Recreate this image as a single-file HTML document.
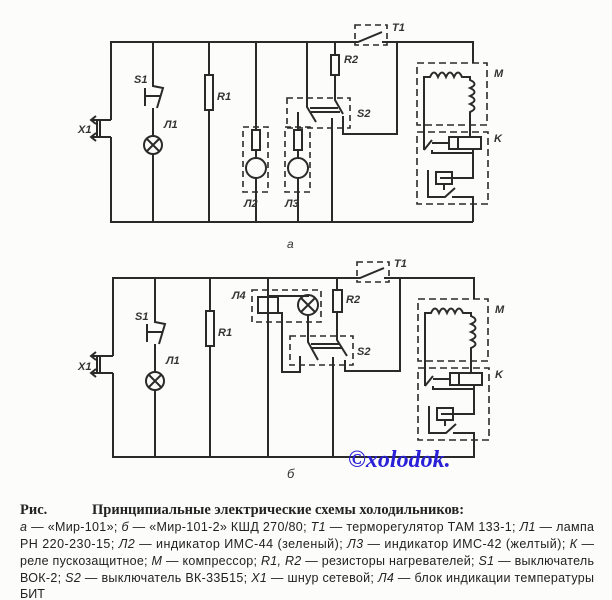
<!DOCTYPE html>
<html><head><meta charset="utf-8"><style>
html,body{margin:0;padding:0;background:#fcfcfa;}
svg{display:block}
.t{font-family:"Liberation Sans",sans-serif;font-style:italic;font-weight:bold;font-size:11px;fill:#333}
.c{font-family:"Liberation Sans","Noto Sans CJK SC",sans-serif;font-size:12.5px;fill:#222}
</style></head><body>
<svg width="612" height="600" viewBox="0 0 612 600" xmlns="http://www.w3.org/2000/svg">
<defs>
<g id="rightpart" fill="none" stroke="#2a2a2a" stroke-width="2">
 <rect x="417" y="63" width="70" height="62" stroke-dasharray="7,4" stroke-width="1.6"/>
 <path d="M424,150 V77 H430 q4,-9 8,0 q4,-9 8,0 q4,-9 8,0 q4,-9 8,0 H470 V80 q9,4 0,8 q9,4 0,8 q9,4 0,8 q9,4 0,8 V137"/>
 <rect x="417" y="132" width="71" height="72" stroke-dasharray="7,4" stroke-width="1.6"/>
 <rect x="449" y="137" width="32" height="12"/>
 <rect x="449" y="137" width="9" height="12"/>
 <path d="M424,150 L432,140 M432,143 H449" />
 <path d="M432,150 V153 H473 V178 H445 M473,149 V153"/>
 <rect x="436" y="172" width="16" height="12"/>
 <path d="M440,178 H448 M444,184 V190"/>
 <path d="M428,170 V197 H445 L455,188 M452,197 H473 V222"/>
</g>
</defs>

<g fill="none" stroke="#2a2a2a" stroke-width="2">
<path d="M111,120 V42 H358 L382,32 M382,42 H473 V63"/>
<path d="M111,137 V222 H473"/>
<path d="M111,120 H92 M111,137 H92 M97,120 V137 M100,120 V137" />
<path d="M96,116 L91,120 L96,124 M96,133 L91,137 L96,141"/>
<rect x="355" y="25" width="32" height="20" stroke-dasharray="6,4" stroke-width="1.6"/>
<path d="M153,42 V86 L163,88 L157,108 M145,88 V106 M145,96 H160 M153,108 V136 M153,154 V222"/>
<circle cx="153" cy="145" r="9"/>
<path d="M147,139 L159,151 M159,139 L147,151"/>
<path d="M209,42 V75 M209,110 V222"/><rect x="205" y="75" width="8" height="35"/>
<path d="M256,42 V130 M256,150 V158 M256,178 V222"/><rect x="252" y="130" width="8" height="20"/>
<circle cx="256" cy="168" r="10"/><rect x="243" y="127" width="25" height="65" stroke-dasharray="6,4" stroke-width="1.6"/>
<path d="M298,112 V130 M298,150 V158 M298,178 V222"/><rect x="294" y="130" width="8" height="20"/>
<circle cx="298" cy="168" r="10"/><rect x="285" y="127" width="25" height="65" stroke-dasharray="6,4" stroke-width="1.6"/>
<path d="M307,42 V107 L316,122 M310,108 H338 M311,112 H340 M332,118 V222"/>
<path d="M335,42 V55 M335,75 V100 L343,114 M343,116 V134 H397 V42"/>
<rect x="331" y="55" width="8" height="20"/>
<rect x="287" y="98" width="63" height="30" stroke-dasharray="6,4" stroke-width="1.6"/>
<use href="#rightpart"/>

<path d="M113,356 V278 H360 L384,268 M384,278 H474 V299"/>
<path d="M113,373 V457 H474"/>
<path d="M113,356 H92 M113,373 H92 M97,356 V373 M100,356 V373"/>
<path d="M96,352 L91,356 L96,360 M96,369 L91,373 L96,377"/>
<rect x="357" y="262" width="32" height="20" stroke-dasharray="6,4" stroke-width="1.6"/>
<path d="M155,278 V322 L165,324 L159,344 M147,324 V342 M147,332 H162 M155,344 V372 M155,390 V457"/>
<circle cx="155" cy="381" r="9"/>
<path d="M149,375 L161,387 M161,375 L149,387"/>
<path d="M210,278 V311 M210,346 V457"/><rect x="206" y="311" width="8" height="35"/>
<path d="M268,278 V457"/>
<rect x="258" y="297" width="20" height="16"/>
<path d="M268,296 H308 V295 M308,315 V342 L318,360 M278,313 H282 V372 H300 V356 M311,344 H340 M312,348 H342"/>
<circle cx="308" cy="305" r="10"/><path d="M301,298 L315,312 M315,298 L301,312"/>
<rect x="252" y="290" width="69" height="32" stroke-dasharray="6,4" stroke-width="1.6"/>
<path d="M337,278 V290 M337,312 V340 L347,356 M333,357 V457 M345,360 V371 H400 V278"/>
<rect x="333" y="290" width="9" height="22"/>
<rect x="290" y="336" width="63" height="29" stroke-dasharray="6,4" stroke-width="1.6"/>
<use href="#rightpart" transform="translate(1,236)"/>
</g>

<text class="t" x="392" y="31">T1</text>
<text class="t" x="134" y="83">S1</text>
<text class="t" x="164" y="128">Л1</text>
<text class="t" x="217" y="100">R1</text>
<text class="t" x="344" y="63">R2</text>
<text class="t" x="357" y="117">S2</text>
<text class="t" x="244" y="207">Л2</text>
<text class="t" x="285" y="207">Л3</text>
<text class="t" x="494" y="77">M</text>
<text class="t" x="494" y="142">K</text>
<text class="t" x="78" y="133">X1</text>
<text class="t" x="287" y="248" style="font-weight:normal;font-size:12px">a</text>
<text class="t" x="394" y="267">T1</text>
<text class="t" x="135" y="320">S1</text>
<text class="t" x="166" y="364">Л1</text>
<text class="t" x="218" y="336">R1</text>
<text class="t" x="232" y="299">Л4</text>
<text class="t" x="346" y="303">R2</text>
<text class="t" x="357" y="355">S2</text>
<text class="t" x="495" y="313">M</text>
<text class="t" x="495" y="378">K</text>
<text class="t" x="78" y="370">X1</text>
<text class="t" x="287" y="478" style="font-weight:normal;font-size:13px">б</text>
<text x="348" y="467" style="font-family:'Liberation Serif',serif;font-style:italic;font-weight:bold;font-size:24px;fill:#2a20d8">©xolodok.</text>

<text x="20" y="514" style="font-family:'Liberation Serif',serif;font-weight:bold;font-size:14.5px;fill:#222">Рис.</text>
<text x="92" y="514" style="font-family:'Liberation Serif',serif;font-weight:bold;font-size:14.5px;fill:#222">Принципиальные электрические схемы холодильников:</text>
<text class="c" x="20" y="531" textLength="574"><tspan font-style="italic">а</tspan> — «Мир-101»; <tspan font-style="italic">б</tspan> — «Мир-101-2» КШД 270/80; <tspan font-style="italic">Т1</tspan> — терморегулятор ТАМ 133-1; <tspan font-style="italic">Л1</tspan> — лампа</text>
<text class="c" x="20" y="548" textLength="574">РН 220-230-15; <tspan font-style="italic">Л2</tspan> — индикатор ИМС-44 (зеленый); <tspan font-style="italic">Л3</tspan> — индикатор ИМС-42 (желтый); <tspan font-style="italic">К</tspan> —</text>
<text class="c" x="20" y="565" textLength="574">реле пускозащитное; <tspan font-style="italic">М</tspan> — компрессор; <tspan font-style="italic">R1, R2</tspan> — резисторы нагревателей; <tspan font-style="italic">S1</tspan> — выключатель</text>
<text class="c" x="20" y="582" textLength="574">ВОК-2; <tspan font-style="italic">S2</tspan> — выключатель ВК-33Б15; <tspan font-style="italic">Х1</tspan> — шнур сетевой; <tspan font-style="italic">Л4</tspan> — блок индикации температуры</text>
<text class="c" x="20" y="598">БИТ</text>
</svg>
</body></html>
